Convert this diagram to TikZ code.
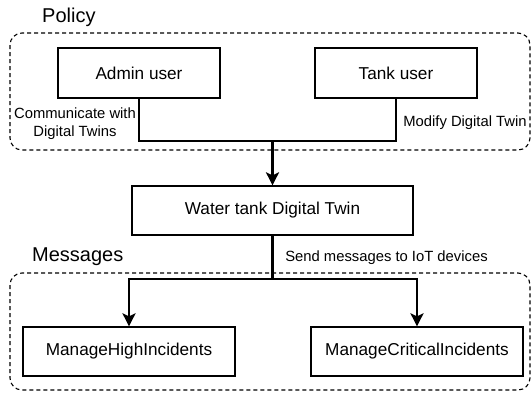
\documentclass[tikz,border=0pt]{standalone}
\usepackage{fontspec}
\setmainfont{Liberation Sans}
\usetikzlibrary{arrows.meta}
\begin{document}
\begin{tikzpicture}[x=1pt,y=-1pt,
  box/.style={draw, line width=1.3pt, inner sep=0pt, font=\fontsize{17.2}{20}\selectfont},
  group/.style={draw, dash pattern=on 4pt off 3pt, rounded corners=12pt, line width=1.1pt},
  conn/.style={line width=2.6pt},
  arr/.style={conn, -{Stealth[length=13pt,width=13pt,inset=3pt]}},
  lbl/.style={font=\fontsize{14.8}{18}\selectfont, inner sep=0pt, align=center},
  grouptitle/.style={font=\fontsize{20}{24}\selectfont, inner sep=0pt, anchor=base west}]
\useasboundingbox (0,0) rectangle (531,394);
% groups
\draw[group] (10,33) rectangle (530,150);
\draw[group] (10,273) rectangle (530,390);
\node[grouptitle] (policy) at (42,22) {Policy};
\node[grouptitle] (messages) at (32,261) {Messages};
% boxes
\node[box, minimum width=162pt, minimum height=50pt] (admin) at (139,73) {Admin user};
\node[box, minimum width=162pt, minimum height=50pt] (tank) at (396,73) {Tank user};
\node[box, minimum width=281pt, minimum height=49pt] (water) at (272.5,210.5) {Water tank Digital Twin};
\node[box, minimum width=212pt, minimum height=49pt] (high) at (129,351.5) {ManageHighIncidents};
\node[box, minimum width=212pt, minimum height=49pt] (crit) at (417,351.5) {ManageCriticalIncidents};
% connectors
\coordinate (j1) at (272.5,141);
\draw[conn] (admin.south) |- (j1) -| (tank.south);
\draw[arr] (j1) -- (water.north);
\coordinate (j2) at (272.5,279);
\draw[conn] (water.south) -- (j2);
\draw[arr] (j2) -| (high.north);
\draw[arr] (j2) -| (crit.north);
% labels
\node[lbl] (l1) at (75,124) {Communicate with\\Digital Twins};
\node[lbl] (l2) at (465,123) {Modify Digital Twin};
\node[lbl] (l3) at (386.5,258) {Send messages to IoT devices};
\end{tikzpicture}
\end{document}
